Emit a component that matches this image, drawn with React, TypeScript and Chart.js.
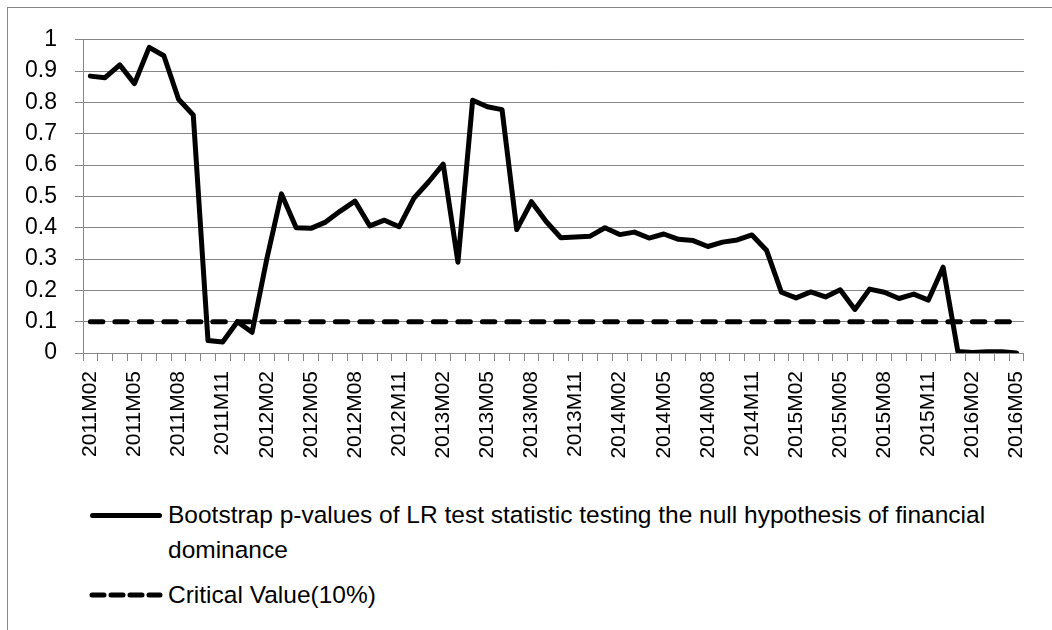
import React, { useEffect, useRef } from "react";
import { Chart, registerables } from "chart.js";

Chart.register(...registerables);

const CATEGORIES = [
  "2011M02", "2011M03", "2011M04", "2011M05", "2011M06", "2011M07", "2011M08", "2011M09", "2011M10", "2011M11", "2011M12",
  "2012M01", "2012M02", "2012M03", "2012M04", "2012M05", "2012M06", "2012M07", "2012M08", "2012M09", "2012M10", "2012M11", "2012M12",
  "2013M01", "2013M02", "2013M03", "2013M04", "2013M05", "2013M06", "2013M07", "2013M08", "2013M09", "2013M10", "2013M11", "2013M12",
  "2014M01", "2014M02", "2014M03", "2014M04", "2014M05", "2014M06", "2014M07", "2014M08", "2014M09", "2014M10", "2014M11", "2014M12",
  "2015M01", "2015M02", "2015M03", "2015M04", "2015M05", "2015M06", "2015M07", "2015M08", "2015M09", "2015M10", "2015M11", "2015M12",
  "2016M01", "2016M02", "2016M03", "2016M04", "2016M05",
];

const P_VALUES = [
  0.884, 0.879, 0.92, 0.86, 0.976, 0.949, 0.81, 0.76, 0.04, 0.035,
  0.1, 0.066, 0.3, 0.508, 0.4, 0.398, 0.418, 0.453, 0.485, 0.406,
  0.424, 0.403, 0.494, 0.546, 0.603, 0.29, 0.807, 0.786, 0.777, 0.394,
  0.483, 0.42, 0.368, 0.37, 0.373, 0.4, 0.378, 0.386, 0.367, 0.38,
  0.363, 0.359, 0.34, 0.354, 0.361, 0.377, 0.327, 0.194, 0.176, 0.195,
  0.179, 0.202, 0.139, 0.204, 0.194, 0.174, 0.188, 0.169, 0.274, 0.005,
  0.002, 0.004, 0.004, 0.0,
];

const CRITICAL = [
  0.1, 0.1, 0.1, 0.1, 0.1, 0.1, 0.1, 0.1, 0.1, 0.1,
  0.1, 0.1, 0.1, 0.1, 0.1, 0.1, 0.1, 0.1, 0.1, 0.1,
  0.1, 0.1, 0.1, 0.1, 0.1, 0.1, 0.1, 0.1, 0.1, 0.1,
  0.1, 0.1, 0.1, 0.1, 0.1, 0.1, 0.1, 0.1, 0.1, 0.1,
  0.1, 0.1, 0.1, 0.1, 0.1, 0.1, 0.1, 0.1, 0.1, 0.1,
  0.1, 0.1, 0.1, 0.1, 0.1, 0.1, 0.1, 0.1, 0.1, 0.1,
  0.1, 0.1, 0.1, 0.1,
];

const LABEL_EVERY = 3;
const Y_MIN = 0;
const Y_MAX = 1;
const Y_STEP = 0.1;

const SERIES_1 = "Bootstrap p-values of LR test statistic testing the null hypothesis of financial dominance";
const SERIES_2 = "Critical Value(10%)";

const FONT = "'Liberation Sans', Arial, sans-serif";
const GRID = "#868686";

export default function App() {
  const ref = useRef<HTMLCanvasElement | null>(null);

  useEffect(() => {
    if (!ref.current) return;
    const chart = new Chart(ref.current, {
      type: "line",
      data: {
        labels: CATEGORIES,
        datasets: [
          {
            label: SERIES_1,
            data: P_VALUES,
            borderColor: "#000",
            borderWidth: 5,
            pointRadius: 0,
            tension: 0,
            borderJoinStyle: "round",
            borderCapStyle: "round",
          },
          {
            label: SERIES_2,
            data: CRITICAL,
            borderColor: "#000",
            borderWidth: 5,
            pointRadius: 0,
            tension: 0,
            borderDash: [12.5, 12],
            borderCapStyle: "round",
          },
        ],
      },
      options: {
        animation: false,
        responsive: false,
        maintainAspectRatio: false,
        layout: { padding: { top: 29, right: 22, left: 0, bottom: 0 } },
        plugins: { legend: { display: false }, tooltip: { enabled: false } },
        scales: {
          x: {
            offset: true,
            grid: {
              offset: true,
              drawOnChartArea: false,
              drawTicks: true,
              tickLength: 8,
              color: GRID,
              lineWidth: 1,
            },
            border: { color: GRID, width: 1 },
            ticks: {
              autoSkip: false,
              minRotation: 90,
              maxRotation: 90,
              padding: 10,
              color: "#000",
              font: { family: FONT, size: 21 },
              callback: (_v: any, i: number) => (i % LABEL_EVERY === 0 ? CATEGORIES[i] : ""),
            },
            afterFit: (s: any) => {
              s.height = 125;
            },
          },
          y: {
            min: Y_MIN,
            max: Y_MAX,
            grid: { color: GRID, lineWidth: 1, tickLength: 8, drawTicks: true },
            border: { color: GRID, width: 1 },
            ticks: {
              stepSize: Y_STEP,
              padding: 18,
              color: "#000",
              font: { family: FONT, size: 23 },
              callback: (v: any) => String(Math.round(Number(v) * 10) / 10),
            },
            afterFit: (s: any) => {
              s.width = 75;
            },
          },
        },
      },
    });
    return () => chart.destroy();
  }, []);

  const textStyle: React.CSSProperties = {
    position: "absolute",
    left: 168,
    fontFamily: FONT,
    fontSize: 24.5,
    lineHeight: "35px",
    color: "#000",
    whiteSpace: "normal",
  };

  return (
    <div style={{ position: "absolute", left: 0, top: 0, width: 1052, height: 630, overflow: "hidden", background: "#fff" }}>
      <div
        style={{
          position: "absolute",
          left: 7,
          top: 7,
          width: 1100,
          height: 700,
          borderLeft: `1px solid ${GRID}`,
          borderTop: `1px solid ${GRID}`,
        }}
      />
      <canvas ref={ref} width={1044} height={470} style={{ position: "absolute", left: 8, top: 8, width: 1044, height: 470 }} />
      <div style={{ position: "absolute", left: 90, top: 513, width: 72, height: 5, background: "#000", borderRadius: 3 }} />
      <div style={{ ...textStyle, top: 497, width: 850 }}>{SERIES_1}</div>
      <svg style={{ position: "absolute", left: 88, top: 590 }} width={76} height={10}>
        <line x1={4} y1={5} x2={72} y2={5} stroke="#000" strokeWidth={5} strokeLinecap="round" strokeDasharray="12 7" />
      </svg>
      <div style={{ ...textStyle, top: 577 }}>{SERIES_2}</div>
    </div>
  );
}
